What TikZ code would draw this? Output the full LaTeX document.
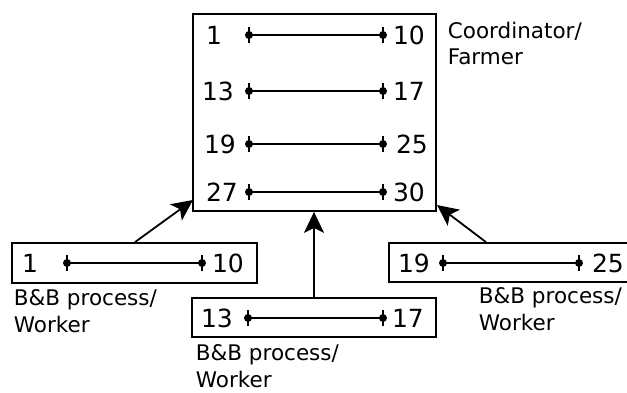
\documentclass[tikz,border=0pt]{standalone}
\usepackage{fontspec}
\setmainfont{DejaVu Sans}
\usepackage{tikz}
\usetikzlibrary{arrows.meta}

\begin{document}
\begin{tikzpicture}[x=1pt,y=-1pt,line width=1.8pt]
				\clip (0,0) rectangle (627,392);
				% boxes
				\begin{scope}[every node/.style={draw,rectangle,inner sep=0pt}]
				\node[minimum width=243pt,minimum height=197pt] (farmer) at (314.5,112.5) {};
				\node[minimum width=245pt,minimum height=40pt] (wleft) at (134.5,263) {};
				\node[minimum width=244pt,minimum height=39pt] (wmid) at (314,317.5) {};
				\node[minimum width=243pt,minimum height=39pt] (wright) at (510.5,262.5) {};
				\end{scope}
				% bounds
				\begin{scope}[every node/.style={inner sep=0pt,font=\fontsize{25}{30}\selectfont}]
				\node (f1a) at (214,35) {1};
				\node (f1b) at (409,35) {10};
				\node (f2a) at (218,91) {13};
				\node (f2b) at (409,91) {17};
				\node (f3a) at (220,144) {19};
				\node (f3b) at (412,144) {25};
				\node (f4a) at (222,192) {27};
				\node (f4b) at (409,192) {30};
				\node (l1a) at (30,263) {1};
				\node (l1b) at (228,263) {10};
				\node (m1a) at (217,318) {13};
				\node (m1b) at (408,318) {17};
				\node (r1a) at (414,263) {19};
				\node (r1b) at (608,263) {25};
				\end{scope}
				% interval ends
				\begin{scope}[every node/.style={circle,fill,inner sep=0pt,minimum size=8pt}]
				\node (f1l) at (249,35) {};  \node (f1r) at (383,35) {};
				\node (f2l) at (249,91) {};  \node (f2r) at (383,91) {};
				\node (f3l) at (249,144) {}; \node (f3r) at (383,144) {};
				\node (f4l) at (249,192) {}; \node (f4r) at (383,192) {};
				\node (l1l) at (67,263) {};  \node (l1r) at (202,263) {};
				\node (m1l) at (248,318) {}; \node (m1r) at (383,318) {};
				\node (r1l) at (443,263) {}; \node (r1r) at (579,263) {};
				\end{scope}
				\foreach \i in {f1,f2,f3,f4,l1,m1,r1}{
				\draw (\i l.center) -- (\i r.center);
				\draw ([yshift=-8pt]\i l.center) -- ([yshift=8pt]\i l.center);
				\draw ([yshift=-8pt]\i r.center) -- ([yshift=8pt]\i r.center);
				}
				% labels
				\begin{scope}[every node/.style={anchor=north west,inner sep=0pt,align=left,
				font=\fontsize{21.5}{26.5}\selectfont}]
				\node (farmerlbl) at (447,21) {Coordinator/\\Farmer};
				\node (leftlbl) at (13,289) {B\&B process/\\Worker};
				\node (midlbl) at (195,344) {B\&B process/\\Worker};
				\node (rightlbl) at (478,287) {B\&B process/\\Worker};
				\end{scope}
				% messages
				\begin{scope}[>={Stealth[length=21pt,width=20pt,inset=5pt]}]
				\draw[->] (wleft.north -| 135,0) -- (193,200);
				\draw[->] (wmid.north) -- (wmid.north |- farmer.south);
				\draw[->] (wright.north -| 486,0) -- (437,205);
				\end{scope}
\end{tikzpicture}
\end{document}
